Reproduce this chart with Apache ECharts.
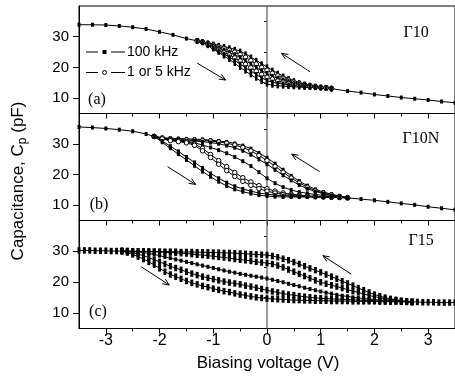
<!DOCTYPE html>
<html><head><meta charset="utf-8">
<script src="https://cdn.jsdelivr.net/npm/echarts@6/dist/echarts.min.js"></script>
<style>html,body{margin:0;padding:0;background:#fff}#c{width:455px;height:378px}</style>
</head><body><div id="c"></div><script>
// ---------- tick labels ----------
const xTicks = [-3, -2, -1, 0, 1, 2, 3];
const xMinorTicks = [-2.5, -1.5, -0.5, 0.5, 1.5, 2.5];
const yTicks = [10, 20, 30];
const yMinorTicks = [15, 25, 35];
const panelLabels = ['(a)', '(b)', '(c)'];
const sampleNames = ['\u039310', '\u039310N', '\u039315'];
const legendNames = ['100 kHz', '1 or 5 kHz'];

// ---------- panel (a) Γ10 ----------
const xLeftA = [-3.5, -3.25, -3, -2.75, -2.5, -2.25, -2, -1.75, -1.5, -1.3];
const aLeft = [33.9, 33.9, 33.8, 33.5, 33.1, 32.5, 31.6, 30.6, 29.4, 28.65];
const xRightA = [1.2, 1.5, 1.75, 2, 2.25, 2.5, 2.75, 3, 3.25, 3.5];
const aRight = [13.1, 12.3, 11.8, 11.2, 10.7, 10.2, 9.8, 9.4, 8.9, 8.5];
const xA = [-1.3, -1.2, -1.1, -1.0, -0.9, -0.8, -0.7, -0.6, -0.5, -0.4, -0.3, -0.2, -0.1, 0, 0.1, 0.2, 0.3, 0.4, 0.5, 0.6, 0.7, 0.8, 0.9, 1.0, 1.1, 1.2];
const aU1 = [28.7, 28.4, 28.0, 27.6, 27.2, 26.8, 26.4, 25.9, 25.3, 24.4, 23.4, 22.3, 21.2, 20.2, 19.1, 18.1, 17.2, 16.4, 15.7, 15.1, 14.6, 14.2, 13.9, 13.6, 13.4, 13.2];
const aU2 = [28.7, 28.3, 27.8, 27.3, 26.7, 26.2, 25.6, 25.0, 24.2, 23.3, 22.2, 21.1, 20.0, 19.1, 18.1, 17.3, 16.5, 15.9, 15.3, 14.8, 14.4, 14.1, 13.8, 13.5, 13.4, 13.2];
const aU3 = [28.7, 28.2, 27.6, 27.0, 26.3, 25.6, 24.9, 24.1, 23.2, 22.2, 21.1, 20.0, 18.9, 18.0, 17.1, 16.5, 15.9, 15.4, 14.9, 14.5, 14.2, 13.9, 13.7, 13.5, 13.3, 13.1];
const aL3 = [28.6, 28.2, 27.5, 26.6, 25.8, 24.9, 24.1, 23.1, 22.1, 21.0, 19.9, 18.8, 17.7, 16.8, 16.2, 15.6, 15.2, 14.8, 14.5, 14.2, 13.9, 13.8, 13.6, 13.4, 13.3, 13.1];
const aL2 = [28.6, 28.1, 27.3, 26.3, 25.4, 24.3, 23.4, 22.2, 21.1, 19.9, 18.8, 17.7, 16.6, 15.7, 15.2, 14.8, 14.6, 14.3, 14.1, 13.9, 13.7, 13.6, 13.5, 13.4, 13.2, 13.0];
const aL1 = [28.6, 28.0, 27.1, 26.0, 24.9, 23.7, 22.6, 21.3, 20.0, 18.8, 17.6, 16.5, 15.4, 14.6, 14.2, 14.0, 13.9, 13.8, 13.7, 13.6, 13.5, 13.5, 13.4, 13.3, 13.2, 13.0];

// ---------- panel (b) Γ10N ----------
const xLeftB = [-3.5, -3.25, -3, -2.75, -2.5, -2.25, -2.1];
const bLeft = [35.6, 35.4, 35.1, 34.7, 34.2, 33.3, 32.5];
const xRightB = [1.5, 1.75, 2, 2.25, 2.5, 2.75, 3, 3.25, 3.5];
const bRight = [12.4, 12.0, 11.6, 11.1, 10.6, 10.1, 9.5, 9.0, 8.5];
const xB = [-2.1, -1.95, -1.8, -1.65, -1.5, -1.35, -1.2, -1.05, -0.9, -0.75, -0.6, -0.45, -0.3, -0.15, 0, 0.15, 0.3, 0.45, 0.6, 0.75, 0.9, 1.05, 1.2, 1.35, 1.5];
const bR1 = [32.5, 32.1, 31.9, 31.8, 31.7, 31.6, 31.5, 31.3, 31.0, 30.7, 30.2, 29.5, 28.5, 27.1, 25.5, 23.6, 21.6, 19.6, 17.9, 16.4, 15.2, 14.3, 13.6, 13.0, 12.5];
const bR2 = [32.5, 32.0, 31.7, 31.5, 31.4, 31.3, 31.2, 31.0, 30.7, 30.3, 29.7, 28.9, 27.8, 26.3, 24.6, 22.7, 20.8, 18.9, 17.3, 15.9, 14.8, 14.0, 13.4, 12.9, 12.5];
const bR3 = [32.5, 31.9, 31.5, 31.3, 31.1, 31.0, 30.8, 30.5, 30.1, 29.5, 28.8, 27.8, 26.5, 25.0, 23.4, 21.6, 19.8, 18.1, 16.6, 15.4, 14.5, 13.8, 13.2, 12.8, 12.5];
const bF = [32.5, 31.9, 31.5, 31.2, 30.9, 30.4, 29.7, 28.9, 28.0, 27.0, 25.8, 24.4, 22.8, 20.8, 18.8, 17.2, 15.9, 15.0, 14.3, 13.9, 13.5, 13.2, 12.9, 12.7, 12.4];
const bO1 = [32.5, 31.8, 31.3, 31.0, 30.7, 30.0, 28.6, 26.6, 24.6, 22.6, 20.7, 19.0, 17.6, 16.4, 15.4, 14.6, 14.0, 13.6, 13.3, 13.1, 12.9, 12.8, 12.7, 12.6, 12.4];
const bO2 = [32.5, 31.7, 31.1, 30.8, 30.4, 29.6, 27.8, 25.6, 23.4, 21.3, 19.4, 17.8, 16.5, 15.4, 14.6, 14.0, 13.5, 13.2, 13.0, 12.9, 12.8, 12.7, 12.6, 12.5, 12.4];
const bL2 = [32.5, 31.0, 29.3, 27.6, 25.8, 24.0, 22.2, 20.4, 18.8, 17.4, 16.2, 15.3, 14.6, 14.0, 13.6, 13.3, 13.1, 13.0, 12.9, 12.9, 12.8, 12.8, 12.7, 12.6, 12.4];
const bL1 = [32.5, 30.6, 28.6, 26.7, 24.8, 22.9, 21.0, 19.3, 17.7, 16.3, 15.2, 14.4, 13.8, 13.3, 13.0, 12.8, 12.7, 12.7, 12.7, 12.7, 12.6, 12.6, 12.6, 12.5, 12.4];

// ---------- panel (c) Γ15 ----------
const xLeftC = [-3.5, -3.4, -3.3, -3.2, -3.1, -3.0, -2.9, -2.8, -2.7];
const cLeft = [30.3, 30.3, 30.3, 30.2, 30.2, 30.2, 30.1, 30.1, 30.1];
const xRightC = [2.7, 2.8, 2.9, 3.0, 3.1, 3.2, 3.3, 3.4, 3.5];
const cRight = [13.6, 13.6, 13.5, 13.5, 13.5, 13.4, 13.4, 13.4, 13.4];
const xC = [-2.7, -2.6, -2.5, -2.4, -2.3, -2.2, -2.1, -2.0, -1.9, -1.8, -1.7, -1.6, -1.5, -1.4, -1.3, -1.2, -1.1, -1.0, -0.9, -0.8, -0.7, -0.6, -0.5, -0.4, -0.3, -0.2, -0.1, 0, 0.1, 0.2, 0.3, 0.4, 0.5, 0.6, 0.7, 0.8, 0.9, 1.0, 1.1, 1.2, 1.3, 1.4, 1.5, 1.6, 1.7, 1.8, 1.9, 2.0, 2.1, 2.2, 2.3, 2.4, 2.5, 2.6, 2.7];
const c1 = [30.1, 30.1, 30.0, 30.0, 30.0, 30.0, 29.9, 29.9, 29.9, 29.9, 29.9, 29.8, 29.8, 29.8, 29.7, 29.7, 29.7, 29.6, 29.6, 29.5, 29.5, 29.4, 29.3, 29.2, 29.1, 29.0, 28.9, 28.8, 28.5, 28.1, 27.6, 27.1, 26.5, 25.9, 25.2, 24.5, 23.9, 23.2, 22.5, 21.8, 21.1, 20.3, 19.6, 18.9, 18.1, 17.4, 16.7, 16.0, 15.5, 15.0, 14.6, 14.3, 14.0, 13.8, 13.6];
const c2 = [30.1, 30.1, 30.0, 30.0, 30.0, 29.9, 29.9, 29.8, 29.7, 29.6, 29.5, 29.4, 29.3, 29.1, 28.9, 28.8, 28.6, 28.4, 28.2, 28.0, 27.8, 27.5, 27.3, 27.1, 26.9, 26.6, 26.4, 26.2, 25.9, 25.4, 24.8, 24.1, 23.4, 22.7, 22.0, 21.3, 20.6, 20.0, 19.5, 19.0, 18.6, 18.1, 17.6, 17.1, 16.7, 16.2, 15.7, 15.3, 15.0, 14.6, 14.4, 14.1, 13.9, 13.7, 13.6];
const c3 = [30.1, 30.0, 29.9, 29.8, 29.6, 29.3, 29.0, 28.6, 28.2, 27.8, 27.4, 27.0, 26.6, 26.2, 25.8, 25.4, 25.0, 24.6, 24.2, 23.8, 23.4, 23.1, 22.7, 22.4, 22.1, 21.8, 21.5, 21.2, 20.8, 20.4, 20.0, 19.5, 19.1, 18.7, 18.2, 17.8, 17.4, 17.0, 16.6, 16.3, 15.9, 15.6, 15.4, 15.1, 14.9, 14.7, 14.5, 14.4, 14.2, 14.1, 14.0, 13.9, 13.8, 13.7, 13.6];
const c4 = [30.1, 29.9, 29.6, 29.1, 28.6, 28.0, 27.3, 26.6, 25.9, 25.2, 24.6, 24.0, 23.4, 22.8, 22.3, 21.8, 21.4, 21.0, 20.6, 20.2, 19.9, 19.6, 19.3, 18.9, 18.6, 18.2, 17.8, 17.4, 17.0, 16.7, 16.3, 16.0, 15.8, 15.5, 15.3, 15.1, 14.9, 14.8, 14.7, 14.6, 14.5, 14.5, 14.4, 14.3, 14.2, 14.1, 14.1, 14.0, 13.9, 13.9, 13.8, 13.8, 13.7, 13.7, 13.6];
const c5 = [30.1, 29.6, 29.0, 28.3, 27.5, 26.6, 25.6, 24.5, 23.4, 22.5, 21.8, 21.1, 20.4, 19.8, 19.3, 18.8, 18.4, 17.9, 17.5, 17.1, 16.8, 16.4, 16.0, 15.7, 15.4, 15.1, 14.9, 14.7, 14.6, 14.5, 14.4, 14.3, 14.2, 14.2, 14.1, 14.1, 14.0, 14.0, 14.0, 13.9, 13.9, 13.9, 13.9, 13.8, 13.8, 13.8, 13.8, 13.8, 13.7, 13.7, 13.7, 13.7, 13.7, 13.6, 13.6];

// zero-bias reference line and arrows (data coordinates)
const zeroLineX = [0, 0];
const zeroLineY = [5, 40];
const arrowsData = [
  [0, [-1.30, 21.4], [-0.77, 15.9]], [0, [0.80, 18.6], [0.27, 24.6]],
  [1, [-1.85, 22.6], [-1.33, 16.8]], [1, [0.98, 21.0], [0.46, 26.7]],
  [2, [-2.34, 25.0], [-1.82, 19.1]], [2, [1.57, 22.6], [1.04, 28.6]]
];

// ---------- build ----------
const SANS = 'Liberation Sans, Arial, sans-serif';
const SERIF = 'Liberation Serif, Times New Roman, serif';
const chart = echarts.init(document.getElementById('c'), null, {renderer: 'canvas'});
const grids = [
  {left: 79, top: 6, width: 379, height: 107.5},
  {left: 79, top: 113.5, width: 379, height: 107},
  {left: 79, top: 220.5, width: 379, height: 108}
];
const xAxis = [], yAxis = [];
for (let i = 0; i < 3; i++) {
  xAxis.push({type: 'value', gridIndex: i, min: -3.5, max: 3.5, position: 'bottom',
    axisLine: {show: true, onZero: false, lineStyle: {color: '#000', width: 1}},
    axisTick: {show: true, inside: false, length: 5, customValues: xTicks, lineStyle: {color: '#000', width: 1}},
    axisLabel: {show: i === 2, customValues: xTicks, margin: 4, fontSize: 16, fontFamily: SANS, color: '#000'},
    splitLine: {show: false}});
  yAxis.push({type: 'value', gridIndex: i, min: 5, max: 40, position: 'left',
    axisLine: {show: true, onZero: false, lineStyle: {color: '#000', width: 1}},
    axisTick: {show: true, inside: false, length: 6, customValues: yTicks, lineStyle: {color: '#000', width: 1}},
    axisLabel: {show: true, customValues: yTicks, margin: 10, fontSize: 15, fontFamily: SANS, color: '#000'},
    splitLine: {show: false}});
}
for (let i = 0; i < 3; i++) {
  xAxis.push({type: 'value', gridIndex: i, min: -3.5, max: 3.5, position: 'bottom',
    axisLine: {show: false}, axisLabel: {show: false}, splitLine: {show: false},
    axisTick: {show: true, inside: false, length: 3, customValues: xMinorTicks, lineStyle: {color: '#000', width: 1}}});
  yAxis.push({type: 'value', gridIndex: i, min: 5, max: 40, position: 'left',
    axisLine: {show: false}, axisLabel: {show: false}, splitLine: {show: false},
    axisTick: {show: true, inside: false, length: 3, customValues: yMinorTicks, lineStyle: {color: '#000', width: 1}}});
}

function zip(xs, ys) { return xs.map((x, i) => [x, ys[i]]); }
const MK = {
  sq: {symbol: 'rect', symbolSize: [3, 4], itemStyle: {color: '#000', borderWidth: 0}},
  bar: {symbol: 'rect', symbolSize: [2.5, 5], itemStyle: {color: '#000', borderWidth: 0}},
  barC: {symbol: 'rect', symbolSize: [3, 6.5], itemStyle: {color: '#000', borderWidth: 0}},
  open: {symbol: 'circle', symbolSize: 4.5, itemStyle: {color: '#fff', borderColor: '#000', borderWidth: 1}}
};
function ser(g, xs, ys, mk, z) {
  return Object.assign({type: 'line', xAxisIndex: g, yAxisIndex: g, data: zip(xs, ys),
    showSymbol: true, animation: false, silent: true, z: z || 3,
    lineStyle: {color: '#000', width: 1}}, MK[mk]);
}
const series = [];
for (let g = 0; g < 3; g++) {
  series.push({type: 'line', xAxisIndex: g, yAxisIndex: g, data: zip(zeroLineX, zeroLineY),
    showSymbol: false, animation: false, silent: true, z: 1, lineStyle: {color: '#666', width: 1.3}});
}
series.push(ser(0, xLeftA, aLeft, 'sq'), ser(0, xRightA, aRight, 'sq'),
  ser(0, xA, aU1, 'bar'), ser(0, xA, aU2, 'open'), ser(0, xA, aU3, 'bar'),
  ser(0, xA, aL3, 'open'), ser(0, xA, aL2, 'bar'), ser(0, xA, aL1, 'bar'));
series.push(ser(1, xLeftB, bLeft, 'sq'), ser(1, xRightB, bRight, 'sq'),
  ser(1, xB, bR1, 'sq'), ser(1, xB, bR2, 'open'), ser(1, xB, bR3, 'sq'),
  ser(1, xB, bF, 'sq'), ser(1, xB, bO1, 'open'), ser(1, xB, bO2, 'open'),
  ser(1, xB, bL2, 'sq'), ser(1, xB, bL1, 'sq'));
series.push(ser(2, xLeftC, cLeft, 'barC'), ser(2, xRightC, cRight, 'barC'),
  ser(2, xC, c1, 'barC'), ser(2, xC, c2, 'barC'), ser(2, xC, c3, 'sq'),
  ser(2, xC, c4, 'barC'), ser(2, xC, c5, 'barC'));

chart.setOption({
  animation: false,
  backgroundColor: '#fff',
  grid: grids.map(g => Object.assign({show: true, borderColor: '#000', borderWidth: 1, backgroundColor: 'transparent'}, g)),
  xAxis, yAxis, series
});

// ---------- annotations ----------
const graphic = [];
function seg(x1, y1, x2, y2, w) {
  return {type: 'line', shape: {x1, y1, x2, y2}, style: {stroke: '#000', lineWidth: w || 1}, z: 10, silent: true};
}
arrowsData.forEach(([g, a, b]) => {
  const p1 = chart.convertToPixel({gridIndex: g}, a);
  const p2 = chart.convertToPixel({gridIndex: g}, b);
  graphic.push(seg(p1[0], p1[1], p2[0], p2[1], 1));
  const ang = Math.atan2(p1[1] - p2[1], p1[0] - p2[0]);
  const L = 7, da = 0.4;
  graphic.push({type: 'polyline', shape: {points: [
    [p2[0] + L * Math.cos(ang + da), p2[1] + L * Math.sin(ang + da)], p2,
    [p2[0] + L * Math.cos(ang - da), p2[1] + L * Math.sin(ang - da)]]},
    style: {stroke: '#000', lineWidth: 1, fill: null}, z: 10, silent: true});
});
const labPos = [[97, 100], [99, 205], [98, 312]];
panelLabels.forEach((t, i) => graphic.push({type: 'text', x: labPos[i][0], y: labPos[i][1], z: 10,
  style: {text: t, font: '16px ' + SERIF, fill: '#000', align: 'center', verticalAlign: 'middle'}}));
const namePos = [[416, 33], [421, 139], [421, 241]];
sampleNames.forEach((t, i) => graphic.push({type: 'text', x: namePos[i][0], y: namePos[i][1], z: 10,
  style: {text: t, font: '16px ' + SERIF, fill: '#000', align: 'center', verticalAlign: 'middle'}}));
// legend
graphic.push(seg(86, 52, 98, 52), seg(111, 52, 125, 52),
  {type: 'rect', shape: {x: 102.5, y: 50, width: 4, height: 4}, style: {fill: '#000'}, z: 10},
  {type: 'text', x: 127, y: 52, z: 10, style: {text: legendNames[0], font: '14px ' + SANS, fill: '#000', align: 'left', verticalAlign: 'middle'}},
  seg(86, 72.5, 98, 72.5), seg(111, 72.5, 125, 72.5),
  {type: 'circle', shape: {cx: 104.5, cy: 72.5, r: 2}, style: {fill: '#fff', stroke: '#000', lineWidth: 1}, z: 10},
  {type: 'text', x: 127, y: 72.5, z: 10, style: {text: legendNames[1], font: '14px ' + SANS, fill: '#000', align: 'left', verticalAlign: 'middle'}});
// axis titles
graphic.push({type: 'text', x: 268, y: 363, z: 10,
  style: {text: 'Biasing voltage (V)', font: '17px ' + SANS, fill: '#000', align: 'center', verticalAlign: 'middle'}});
// y title with subscript: three rotated pieces reading bottom-to-top
const ctx = document.createElement('canvas').getContext('2d');
const F1 = '17px ' + SANS, F2 = '12px ' + SANS;
const parts = [['Capacitance, C', F1, 0], ['p', F2, 5], [' (pF)', F1, 0]];
const widths = parts.map(p => { ctx.font = p[1]; return ctx.measureText(p[0]).width; });
const total = widths.reduce((s, w) => s + w, 0);
let yCur = 181 + total / 2;
parts.forEach((p, i) => {
  graphic.push({type: 'text', x: 18 + p[2], y: yCur, rotation: Math.PI / 2, z: 10,
    style: {text: p[0], font: p[1], fill: '#000', align: 'left', verticalAlign: 'middle'}});
  yCur -= widths[i];
});
chart.setOption({graphic});
</script></body></html>
